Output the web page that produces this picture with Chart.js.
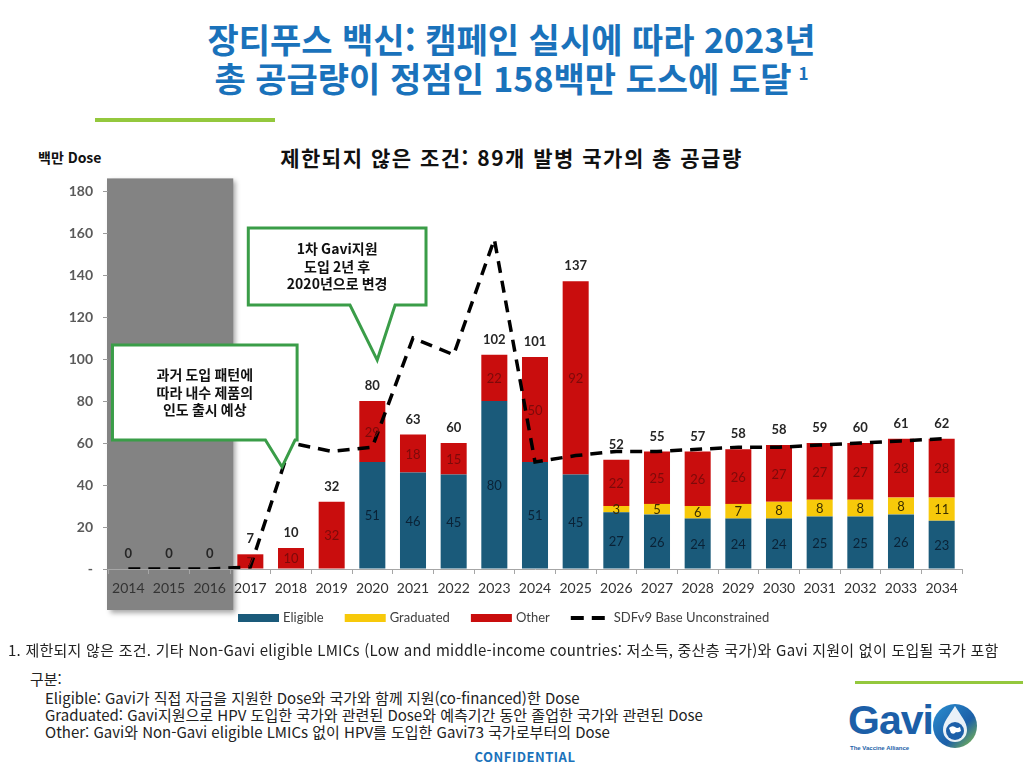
<!DOCTYPE html>
<html lang="ko">
<head>
<meta charset="utf-8">
<script src="https://cdn.jsdelivr.net/npm/chart.js@4.4.0/dist/chart.umd.min.js"></script>
<style>
    html, body { margin: 0; padding: 0; background: #fff; }
    body { width: 1023px; height: 768px; position: relative; overflow: hidden; font-family: "Noto Sans CJK KR", sans-serif; color: #222; }
    .title { position: absolute; left: 0; width: 1023px; text-align: center; color: #1a72bb; font-weight: 700; font-size: 34px; line-height: 38px; white-space: nowrap; }
    .title .sup { position: relative; top: -12px; font-size: 17px; margin-left: 7px; }
    .greenline { position: absolute; background: #94c83d; }
    .subtitle { position: absolute; left: 0; top: 143px; width: 1023px; text-align: center; font-weight: 700; font-size: 21px; line-height: 28px; letter-spacing: 1.5px; color: #111; }
    .unit { position: absolute; left: 38px; top: 147px; font-size: 14px; font-weight: 700; color: #111; }
    #chartBox { position: absolute; left: 0; top: 140px; width: 1023px; height: 500px; }
    .note { position: absolute; font-size: 15px; line-height: 18px; color: #222; white-space: nowrap; }
    .conf { position: absolute; left: 0; width: 1050px; top: 747px; text-align: center; color: #1a72bb; font-weight: 700; font-size: 13px; letter-spacing: 0.5px; }
    .gavi { position: absolute; left: 848px; top: 697px; font-family: "Liberation Sans", sans-serif; font-weight: 700; font-size: 41px; color: #1c5fa8; letter-spacing: -1px; }
    .tagline { position: absolute; left: 850px; top: 745px; font-family: "Liberation Sans", sans-serif; font-size: 6px; font-weight: 700; color: #1c5fa8; }
</style>
</head>
<body>
<div class="title" style="top:20px;">장티푸스 백신: 캠페인 실시에 따라 2023년</div>
<div class="title" style="top:59px;">총 공급량이 정점인 158백만 도스에 도달<span class="sup">1</span></div>
<div class="greenline" style="left:95px; top:118px; width:180px; height:4px;"></div>
<div class="subtitle">제한되지 않은 조건: 89개 발병 국가의 총 공급량</div>
<div class="unit">백만 Dose</div>
<div id="chartBox"><canvas id="Supply_Chart"></canvas></div>

<div class="note" style="left:8px; top:641px; letter-spacing:0.25px;">1. 제한되지 않은 조건. 기타 Non-Gavi eligible LMICs (Low and middle-income countries: 저소득, 중산층 국가)와 Gavi 지원이 없이 도입될 국가 포함</div>
<div class="note" style="left:30px; top:670px;">구분:</div>
<div class="note" style="left:45px; top:689px;">Eligible: Gavi가 직접 자금을 지원한 Dose와 국가와 함께 지원(co-financed)한 Dose</div>
<div class="note" style="left:45px; top:706px;">Graduated: Gavi지원으로 HPV 도입한 국가와 관련된 Dose와 예측기간 동안 졸업한 국가와 관련된 Dose</div>
<div class="note" style="left:45px; top:723px;">Other: Gavi와 Non-Gavi eligible LMICs 없이 HPV를 도입한 Gavi73 국가로부터의 Dose</div>
<div class="conf">CONFIDENTIAL</div>
<div class="greenline" style="left:855px; top:681px; width:168px; height:3px;"></div>
<div class="gavi">Gavi</div>
<div class="tagline">The Vaccine Alliance</div>
<svg style="position:absolute; left:931px; top:702px;" width="48" height="48" viewBox="0 0 48 48">
    <defs>
        <linearGradient id="gg" x1="0" y1="0" x2="1" y2="1">
            <stop offset="0" stop-color="#2a8fd0"/>
            <stop offset="0.6" stop-color="#1c5fa8"/>
            <stop offset="1" stop-color="#8cc63f"/>
        </linearGradient>
    </defs>
    <circle cx="24" cy="24" r="22" fill="url(#gg)"/>
    <path d="M24 4 C18 14 12 20 12 28 a12 12 0 0 0 24 0 C36 20 30 14 24 4 Z" fill="#fff" opacity="0.9"/>
    <circle cx="24" cy="29" r="9" fill="#1c5fa8"/>
    <path d="M18 26 q3 -3 6 -1 q2 2 5 0 l1 4 q-3 2 -5 1 q-2 3 -5 1 z" fill="#fff"/>
</svg>

<script>
// categories and series
const years = ['2014', '2015', '2016', '2017', '2018', '2019', '2020', '2021', '2022', '2023', '2024',
    '2025', '2026', '2027', '2028', '2029', '2030', '2031', '2032', '2033', '2034'];
const eligible = [0, 0, 0, 0, 0, 0, 51, 46, 45, 80, 51, 45, 27, 26, 24, 24, 24, 25, 25, 26, 23];
const graduated = [0, 0, 0, 0, 0, 0, 0, 0, 0, 0, 0, 0, 3, 5, 6, 7, 8, 8, 8, 8, 11];
const other = [0, 0, 0, 7, 10, 32, 29, 18, 15, 22, 50, 92, 22, 25, 26, 26, 27, 27, 27, 28, 28];
const totals = [0, 0, 0, 7, 10, 32, 80, 63, 60, 102, 101, 137, 52, 55, 57, 58, 58, 59, 60, 61, 62];
const sdfv9 = [0, 0, 0, 1, 60, 56, 58, 110, 102, 157, 51, 54, 56, 56, 57, 58, 58, 59, 60, 61, 62];
const yTicks = [0, 20, 40, 60, 80, 100, 120, 140, 160, 180];

// callout notes (text only, anchored through the scales below)
const note1Lines = ['과거 도입 패턴에', '따라 내수 제품의', '인도 출시 예상'];
const note2Lines = ['1차 Gavi지원', '도입 2년 후', '2020년으로 변경'];

const ELIGIBLE_COLOR = '#1a5a7a';
const GRADUATED_COLOR = '#f7c90a';
const OTHER_COLOR = '#c90d0d';
const LABEL_FONT = "Lato, 'Noto Sans', sans-serif";

// gray "history" panel behind 2014-2016
const historyPanel = {
    id: 'historyPanel',
    beforeDraw(chart) {
        const ctx = chart.ctx;
        const x = chart.scales.x;
        const y = chart.scales.y;
        const left = x.left - 1;
        const right = x.getPixelForValue(2) + 0.58 * (x.getPixelForValue(3) - x.getPixelForValue(2));
        const top = y.getPixelForValue(186);
        const bottom = y.getPixelForValue(0) + 41;
        ctx.save();
        ctx.shadowColor = 'rgba(0,0,0,0.35)';
        ctx.shadowOffsetX = 3;
        ctx.shadowOffsetY = 3;
        ctx.shadowBlur = 5;
        ctx.fillStyle = '#838383';
        ctx.fillRect(left, top, right - left, bottom - top);
        ctx.restore();
    }
};

// values inside the segments and totals on top
const barLabels = {
    id: 'barLabels',
    afterDatasetsDraw(chart) {
        const ctx = chart.ctx;
        const colors = ['#0a2236', '#3a2e00', '#7d0a0a'];
        ctx.save();
        ctx.textAlign = 'center';
        ctx.textBaseline = 'middle';
        ctx.font = '13px ' + LABEL_FONT;
        for (let i = 0; i < 3; i++) {
            const ds = chart.data.datasets[i];
            chart.getDatasetMeta(i).data.forEach((bar, j) => {
                const v = ds.data[j];
                if (!v) return;
                ctx.fillStyle = colors[i];
                ctx.fillText(String(v), bar.x, (bar.y + bar.base) / 2 + 1);
            });
        }
        ctx.font = 'bold 13px ' + LABEL_FONT;
        ctx.fillStyle = '#262626';
        chart.getDatasetMeta(2).data.forEach((bar, j) => {
            ctx.fillText(String(totals[j]), bar.x, bar.y - 15);
        });
        ctx.restore();
    }
};

function drawCallout(chart, box, lines) {
    const ctx = chart.ctx;
    const x = chart.scales.x;
    const y = chart.scales.y;
    const px = (v) => x.getPixelForValue(0) + v * (x.getPixelForValue(1) - x.getPixelForValue(0));
    const x0 = px(box.x0), x1 = px(box.x1);
    const y0 = y.getPixelForValue(box.y0), y1 = y.getPixelForValue(box.y1);
    const b0 = px(box.b0), b1 = px(box.b1);
    const tx = px(box.tipX), ty = y.getPixelForValue(box.tipY);
    ctx.save();
    ctx.beginPath();
    ctx.moveTo(x0, y0);
    ctx.lineTo(x1, y0);
    ctx.lineTo(x1, y1);
    ctx.lineTo(b1, y1);
    ctx.lineTo(tx, ty);
    ctx.lineTo(b0, y1);
    ctx.lineTo(x0, y1);
    ctx.closePath();
    ctx.fillStyle = '#ffffff';
    ctx.fill();
    ctx.lineWidth = 3;
    ctx.lineJoin = 'miter';
    ctx.strokeStyle = '#3a9d48';
    ctx.stroke();
    ctx.fillStyle = '#111';
    ctx.font = "bold 14px 'Noto Sans CJK KR', sans-serif";
    ctx.textAlign = 'center';
    ctx.textBaseline = 'middle';
    const cx = (x0 + x1) / 2;
    const cy = (y0 + y1) / 2;
    const lh = 17.5;
    lines.forEach((t, k) => {
        ctx.fillText(t, cx, cy + (k - (lines.length - 1) / 2) * lh);
    });
    ctx.restore();
}

const callouts = {
    id: 'callouts',
    afterDraw(chart) {
        drawCallout(chart, { x0: -0.39, x1: 4.15, y0: 106.7, y1: 61.4, b0: 3.37, b1: 4.1, tipX: 3.78, tipY: 48.6 }, note1Lines);
        drawCallout(chart, { x0: 2.95, x1: 7.32, y0: 162.4, y1: 125.7, b0: 5.45, b1: 6.56, tipX: 6.12, tipY: 99.5 }, note2Lines);
    }
};

// legend row under the axis
const legendRow = {
    id: 'legendRow',
    afterDraw(chart) {
        const ctx = chart.ctx;
        const ly = 478;
        let lx = 238;
        ctx.save();
        ctx.font = '13px ' + LABEL_FONT;
        ctx.textBaseline = 'middle';
        ctx.textAlign = 'left';
        chart.data.datasets.forEach((ds) => {
            if (ds.type === 'line') {
                ctx.strokeStyle = '#000';
                ctx.lineWidth = 4;
                ctx.setLineDash([13, 8]);
                ctx.beginPath();
                ctx.moveTo(lx, ly);
                ctx.lineTo(lx + 35, ly);
                ctx.stroke();
                ctx.setLineDash([]);
                lx += 43;
            } else {
                ctx.fillStyle = ds.backgroundColor;
                ctx.fillRect(lx, ly - 4, 41, 8);
                lx += 45;
            }
            ctx.fillStyle = '#404040';
            ctx.fillText(ds.label, lx, ly);
            lx += ctx.measureText(ds.label).width + 21;
        });
        ctx.restore();
    }
};

var Supply_Chart = null;

function createSupply_Chart() {
    var canvas = document.getElementById('Supply_Chart');

    if (Supply_Chart) {
        Supply_Chart.destroy();
    }

    Supply_Chart = new Chart(canvas, {
        type: 'bar',
        data: {
            labels: years,
            datasets: [
                {
                    label: 'Eligible',
                    data: eligible,
                    backgroundColor: ELIGIBLE_COLOR,
                    order: 1
                },
                {
                    label: 'Graduated',
                    data: graduated,
                    backgroundColor: GRADUATED_COLOR,
                    order: 1
                },
                {
                    label: 'Other',
                    data: other,
                    backgroundColor: OTHER_COLOR,
                    order: 1
                },
                {
                    type: 'line',
                    label: 'SDFv9 Base Unconstrained',
                    data: sdfv9,
                    stack: 'line',
                    borderColor: '#000000',
                    borderWidth: 3.5,
                    borderDash: [12, 8],
                    pointRadius: 0,
                    tension: 0,
                    fill: false,
                    order: 0
                }
            ]
        },
        options: {
            responsive: true,
            maintainAspectRatio: false,
            animation: false,
            barPercentage: 0.64,
            categoryPercentage: 1.0,
            layout: {
                padding: {
                    left: 0,
                    right: 61,
                    top: 51,
                    bottom: 0
                }
            },
            plugins: {
                legend: {
                    display: false
                },
                tooltip: {
                    enabled: false
                }
            },
            scales: {
                x: {
                    stacked: true,
                    afterFit: function(scale) {
                        scale.height = 71;
                    },
                    border: {
                        color: '#a6a6a6'
                    },
                    grid: {
                        drawOnChartArea: false,
                        tickLength: 5,
                        color: '#a6a6a6'
                    },
                    ticks: {
                        padding: 6,
                        color: '#333333',
                        font: {
                            family: LABEL_FONT,
                            size: 14
                        }
                    }
                },
                y: {
                    stacked: true,
                    min: 0,
                    max: 180,
                    afterFit: function(scale) {
                        scale.width = 108;
                    },
                    afterBuildTicks: function(scale) {
                        scale.ticks = yTicks.map(v => ({ value: v }));
                    },
                    border: {
                        display: false
                    },
                    grid: {
                        drawOnChartArea: false,
                        tickLength: 5,
                        color: '#9a9a9a'
                    },
                    ticks: {
                        padding: 10,
                        color: '#5a5a5a',
                        font: {
                            family: LABEL_FONT,
                            size: 14,
                            weight: 'bold'
                        },
                        callback: function(v) {
                            return v === 0 ? '-' : v;
                        }
                    }
                }
            }
        },
        plugins: [historyPanel, barLabels, callouts, legendRow]
    });
}

document.addEventListener('DOMContentLoaded', function() {
    createSupply_Chart();
});
</script>
</body>
</html>
